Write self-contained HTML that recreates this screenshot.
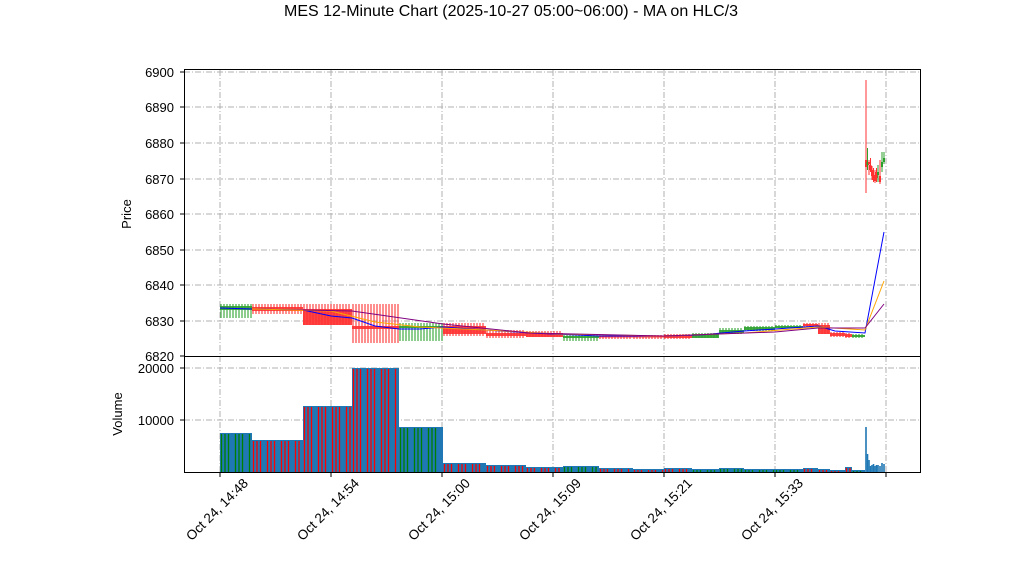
<!DOCTYPE html>
<html><head><meta charset="utf-8"><style>
body{margin:0;background:#fff;}
svg{display:block;font-family:"Liberation Sans","DejaVu Sans",sans-serif;}
</style></head><body>
<svg id="s" width="1022" height="575" viewBox="0 0 1022 575" xmlns="http://www.w3.org/2000/svg">
<rect width="1022" height="575" fill="#fff"/>
<text x="511" y="16" font-size="16" text-anchor="middle">MES 12-Minute Chart (2025-10-27 05:00~06:00) - MA on HLC/3</text>
<g id="grid" stroke="#b0b0b0" stroke-width="1" stroke-dasharray="6,2,1,2" fill="none">
<line x1="184" x2="920" y1="72" y2="72"/><line x1="184" x2="920" y1="107" y2="107"/><line x1="184" x2="920" y1="143" y2="143"/><line x1="184" x2="920" y1="179" y2="179"/><line x1="184" x2="920" y1="214" y2="214"/><line x1="184" x2="920" y1="250" y2="250"/><line x1="184" x2="920" y1="285" y2="285"/><line x1="184" x2="920" y1="321" y2="321"/>
<line x1="184" x2="920" y1="368" y2="368"/><line x1="184" x2="920" y1="420" y2="420"/>
<line x1="220" x2="220" y1="70" y2="472"/><line x1="331" x2="331" y1="70" y2="472"/><line x1="442" x2="442" y1="70" y2="472"/><line x1="553" x2="553" y1="70" y2="472"/><line x1="664" x2="664" y1="70" y2="472"/><line x1="775" x2="775" y1="70" y2="472"/><line x1="886" x2="886" y1="70" y2="472"/>
</g>
<g id="bars"></g>
<polyline fill="none" stroke="#0000ff" stroke-width="1" points="220,308 252,309 303,310 331,316 352,318 375,326 399,329 420,329 443,327 486,330 530,333 600,336 664,336 700,335 744,331 775,329 818,326 835,331 865,333 884,232"/>
<polyline fill="none" stroke="#ffa500" stroke-width="1" points="252,309 331,311 375,322 420,327 486,330 560,334 664,336 744,333 818,327 865,330 884,281"/>
<polyline fill="none" stroke="#800080" stroke-width="1" points="303,310 352,311 443,324 530,333 664,336 775,332 818,328 865,328 884,304"/>
<rect x="184.5" y="69.5" width="736" height="287" fill="none" stroke="#000"/>
<rect x="184.5" y="356.5" width="736" height="116" fill="none" stroke="#000"/>
<g font-size="13" text-anchor="end">
<text x="174" y="77">6900</text><text x="174" y="112">6890</text><text x="174" y="148">6880</text><text x="174" y="184">6870</text><text x="174" y="219">6860</text><text x="174" y="255">6850</text><text x="174" y="290">6840</text><text x="174" y="326">6830</text><text x="174" y="361">6820</text>
<text x="174" y="373">20000</text><text x="174" y="425">10000</text>
</g>
<g stroke="#000"><line x1="180" x2="184" y1="72" y2="72"/><line x1="180" x2="184" y1="107" y2="107"/><line x1="180" x2="184" y1="143" y2="143"/><line x1="180" x2="184" y1="179" y2="179"/><line x1="180" x2="184" y1="214" y2="214"/><line x1="180" x2="184" y1="250" y2="250"/><line x1="180" x2="184" y1="285" y2="285"/><line x1="180" x2="184" y1="321" y2="321"/><line x1="180" x2="184" y1="356" y2="356"/><line x1="180" x2="184" y1="368" y2="368"/><line x1="180" x2="184" y1="420" y2="420"/>
<line x1="220" x2="220" y1="472" y2="477"/><line x1="331" x2="331" y1="472" y2="477"/><line x1="442" x2="442" y1="472" y2="477"/><line x1="553" x2="553" y1="472" y2="477"/><line x1="664" x2="664" y1="472" y2="477"/><line x1="775" x2="775" y1="472" y2="477"/><line x1="886" x2="886" y1="472" y2="477"/></g>
<text transform="translate(131,214) rotate(-90)" font-size="13" text-anchor="middle">Price</text>
<text transform="translate(122,414) rotate(-90)" font-size="13" text-anchor="middle">Volume</text>
<g font-size="13.5" text-anchor="end">
<text transform="translate(249,484) rotate(-45)">Oct 24, 14:48</text>
<text transform="translate(360,484) rotate(-45)">Oct 24, 14:54</text>
<text transform="translate(471,484) rotate(-45)">Oct 24, 15:00</text>
<text transform="translate(582,484) rotate(-45)">Oct 24, 15:09</text>
<text transform="translate(693,484) rotate(-45)">Oct 24, 15:21</text>
<text transform="translate(804,484) rotate(-45)">Oct 24, 15:33</text>
</g>
</svg>
<script>
var G='#2ca02c',R='#ff3030',B='#1f77b4';
var segs=[
[220,252,G,306,310,304,318,433],
[252,303,R,307,311,304,314,440],
[303,352,R,309,325,304,325,406],
[352,399,R,326,329,304,343,368],
[399,443,G,326,328,323,341,427],
[443,486,R,326,334,323,336,463],
[486,526,R,333,336,330,338,465],
[526,563,R,333,337,331,337,467],
[563,599,G,336,338,334,341,466],
[599,633,R,336,337,335,339,468],
[633,664,R,336,337,335,339,469],
[664,692,R,335,338,334,339,468],
[692,719,G,334,338,333,338,469],
[719,744,G,330,333,328,334,468],
[744,775,G,327,330,326,331,469],
[775,803,G,326,328,325,328,469],
[803,818,R,324,326,323,327,468],
[818,830,R,325,334,323,334,469],
[830,845,R,333,336,332,337,470],
[845,852,R,334,337,333,338,467],
[852,865,G,335,337,334,338,470]
];
var g=document.getElementById('bars'),h='';
segs.forEach(function(s){
 for(var x=s[0]+1;x<s[1];x+=3){h+='<line x1="'+x+'" x2="'+x+'" y1="'+s[5]+'" y2="'+s[6]+'" stroke="'+s[2]+'" stroke-width="1.2" opacity="0.9"/>';}
 h+='<rect x="'+s[0]+'" y="'+s[3]+'" width="'+(s[1]-s[0])+'" height="'+Math.max(1.5,s[4]-s[3])+'" fill="'+s[2]+'" opacity="0.9"/>';
 h+='<rect x="'+s[0]+'" y="'+s[7]+'" width="'+(s[1]-s[0])+'" height="'+(472-s[7])+'" fill="'+B+'"/>';
 var i=0;
 for(var x=s[0]+1.5;x<s[1]-1;x+=3.5,i++){ if(i%4==3) continue; h+='<line x1="'+x+'" x2="'+x+'" y1="'+(s[7]+1)+'" y2="472" stroke="'+(s[2]==G?'#008000':'#ff0000')+'" stroke-width="1.3"/>';}
});
var fin=[[866,R,160,167,80,193,427],[867.5,G,162,165,148,170,454],[869,R,162,164,160,175,460],[870.5,R,165,170,158,172,466],[872,R,170,176,166,180,465],[873.5,R,175,180,168,182,464],[875,R,178,181,170,183,466],[876.5,R,172,178,168,182,465],[878,G,172,175,165,182,465],[880,R,176,182,160,184,466],[882,G,162,167,152,172,463],[884,G,158,162,152,164,464]];
fin.forEach(function(f){
 h+='<line x1="'+f[0]+'" x2="'+f[0]+'" y1="'+f[4]+'" y2="'+f[5]+'" stroke="'+f[1]+'"/>';
 h+='<rect x="'+(f[0]-1)+'" y="'+f[2]+'" width="2" height="'+(f[3]-f[2])+'" fill="'+f[1]+'"/>';
 h+='<rect x="'+(f[0]-0.8)+'" y="'+f[6]+'" width="1.6" height="'+(472-f[6])+'" fill="'+B+'"/>';
});
g.innerHTML=h;
</script>
</body></html>
